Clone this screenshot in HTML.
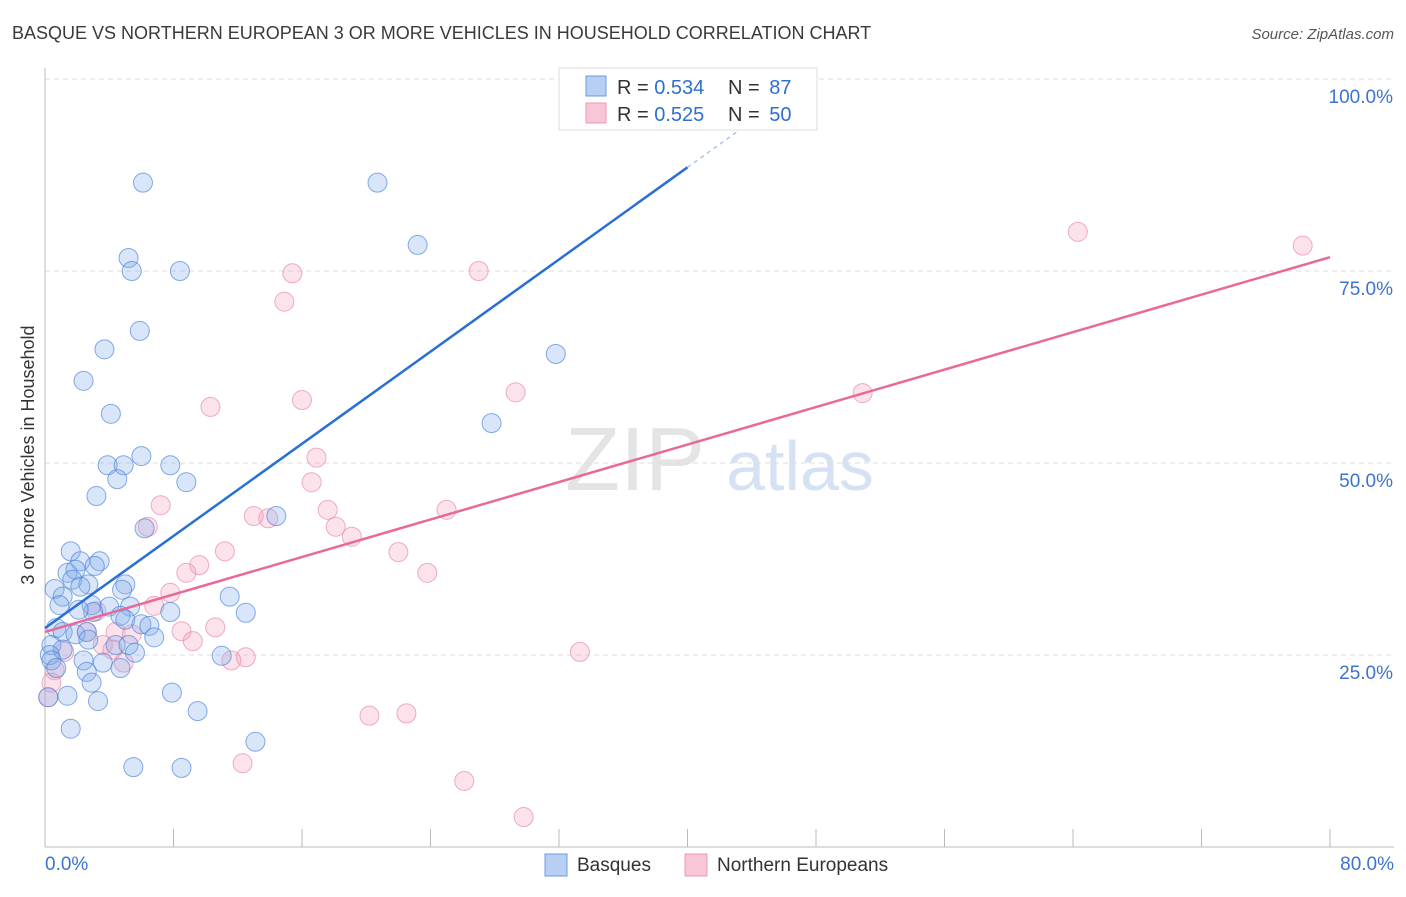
<!DOCTYPE html>
<html><head><meta charset="utf-8"><style>
body{margin:0;background:#fff;font-family:"Liberation Sans",sans-serif}
svg text{font-family:"Liberation Sans",sans-serif}
</style></head><body>
<svg id="c" width="1406" height="892" viewBox="0 0 1406 892">
<text x="12" y="39" font-size="18" fill="#3a3a3a">BASQUE VS NORTHERN EUROPEAN 3 OR MORE VEHICLES IN HOUSEHOLD CORRELATION CHART</text>
<text x="1394" y="39" font-size="15" fill="#555" font-style="italic" text-anchor="end">Source: ZipAtlas.com</text>
<text x="635" y="490" font-size="90" fill="#e4e4e4" font-family="Liberation Serif" text-anchor="middle">ZIP</text>
<text x="800" y="490" font-size="70" fill="#d6e2f3" text-anchor="middle">atlas</text>
<g id="grid"></g><g id="marks"></g>
<text transform="translate(34,455) rotate(-90)" font-size="18" fill="#333" text-anchor="middle">3 or more Vehicles in Household</text>
<g>
<rect x="559" y="68" width="258" height="62" fill="#fff" stroke="#ddd"/>
<rect x="586" y="76" width="20" height="20" fill="#b6cff3" stroke="#6b9be0"/>
<rect x="586" y="103" width="20" height="20" fill="#f8c6d6" stroke="#ec9ab6"/>
<text x="617" y="94" font-size="20" fill="#333">R = <tspan fill="#2f6fd1">0.534</tspan></text>
<text x="728" y="94" font-size="20" fill="#333">N = <tspan fill="#2f6fd1" dx="4">87</tspan></text>
<text x="617" y="121" font-size="20" fill="#333">R = <tspan fill="#2f6fd1">0.525</tspan></text>
<text x="728" y="121" font-size="20" fill="#333">N = <tspan fill="#2f6fd1" dx="4">50</tspan></text>
</g>
<g>
<rect x="545" y="854" width="22" height="22" fill="#b6cff3" stroke="#6b9be0"/>
<text x="577" y="871" font-size="19" fill="#333">Basques</text>
<rect x="685" y="854" width="22" height="22" fill="#f8c6d6" stroke="#ec9ab6"/>
<text x="717" y="871" font-size="19" fill="#333">Northern Europeans</text>
</g>
</svg>
<script>
const xTicks=[0,8,16,24,32,40,48,56,64,72,80];
const yTicks=[25,50,75,100];
const yTickLabels=["25.0%","50.0%","75.0%","100.0%"];
const blueX=[6.1,20.7,23.2,5.2,5.4,8.4,5.9,3.7,31.8,2.4,4.1,27.8,6.0,3.9,4.9,7.8,4.5,8.8,3.2,14.4,6.2,1.6,3.4,2.2,0.6,1.4,1.9,3.1,1.7,2.7,5.0,4.8,2.2,1.1,11.5,0.9,2.9,4.0,5.3,3.0,7.8,12.5,2.1,4.7,5.0,6.0,6.5,0.7,1.1,1.9,2.6,6.8,2.7,0.4,4.4,5.2,1.1,0.3,5.6,0.4,2.4,3.6,11.0,0.7,4.7,2.6,2.9,7.9,1.4,0.2,3.3,9.5,1.6,13.1,5.5,8.5,33.2];
const blueY=[86.5,86.5,78.4,76.7,75.0,75.0,67.2,64.8,64.2,60.7,56.4,55.2,50.9,49.7,49.7,49.7,47.9,47.5,45.7,43.1,41.5,38.5,37.2,37.2,33.6,35.7,36.1,36.6,34.8,34.2,34.2,33.5,33.9,32.6,32.6,31.5,31.5,31.3,31.3,30.6,30.6,30.5,30.9,30.1,29.6,29.0,28.8,28.5,28.0,27.7,28.0,27.3,27.0,26.3,26.3,26.3,25.7,25.0,25.3,24.3,24.3,24.0,24.9,23.3,23.3,22.8,21.4,20.1,19.7,19.5,19.0,17.7,15.4,13.7,10.4,10.3,100.1];
const pinkX=[64.3,78.3,15.4,27.0,14.9,50.9,29.3,16.0,10.3,16.9,16.6,7.2,17.6,25.0,13.0,13.9,18.1,6.4,19.1,11.2,22.0,9.6,8.8,23.8,7.8,6.8,3.2,10.6,8.5,4.4,2.6,5.4,9.2,3.6,4.2,1.2,12.5,11.6,4.9,33.3,0.6,0.4,0.2,20.2,22.5,12.3,26.1,29.8];
const pinkY=[80.1,78.3,74.7,75.0,71.0,59.1,59.2,58.2,57.3,50.7,47.5,44.5,43.9,43.9,43.1,42.8,41.7,41.7,40.4,38.5,38.4,36.7,35.7,35.7,33.1,31.4,30.7,28.6,28.1,28.0,28.0,27.7,26.8,26.3,25.7,25.4,24.7,24.3,24.0,25.4,23.0,21.4,19.5,17.1,17.4,10.9,8.6,3.9];
const blueTrend=[28.5,1.5];   // intercept, slope
const pinkTrend=[28.0,0.61];
const NS="http://www.w3.org/2000/svg";
const X=v=>45+v*1285/80, Y=v=>847-v*7.68;
function mk(t,a,p){const e=document.createElementNS(NS,t);for(const k in a)e.setAttribute(k,a[k]);p.appendChild(e);return e;}
const g=document.getElementById('grid'),m=document.getElementById('marks');
yTicks.forEach((t,i)=>{
 const l=mk('line',{x1:45,x2:1394,y1:Y(t),y2:Y(t),stroke:'#ddd','stroke-dasharray':'5,4'},g);
 
 
 const tx=mk('text',{x:1393,y:Y(t)+24,'font-size':19,fill:'#3b73d0','text-anchor':'end'},g);
 tx.textContent=yTickLabels[i];
 
 
});
const ax=mk('line',{x1:45,x2:45,y1:68,y2:847,stroke:'#bbb'},g);


const bx=mk('line',{x1:45,x2:1394,y1:847,y2:847,stroke:'#bbb'},g);


xTicks.forEach(t=>{
 const l=mk('line',{x1:X(t),x2:X(t),y1:829,y2:847,stroke:'#bbb'},g);
 
 
});
[[0,'0.0%','start',45],[80,'80.0%','end',1394]].forEach(d=>{
 const tx=mk('text',{x:d[3],y:870,'font-size':19,fill:'#3b73d0','text-anchor':d[2]},g);
 tx.textContent=d[1];
 
 
});
function pts(xs,ys,fill,stroke,name){xs.forEach((x,i)=>{
 const c=mk('circle',{cx:X(x),cy:Y(ys[i]),r:9.5,fill:fill,stroke:stroke,'stroke-width':1},m);
 
 
});}
pts(pinkX,pinkY,'rgba(244,165,192,0.32)','rgba(232,140,172,0.7)','northern-european-point');
pts(blueX,blueY,'rgba(130,172,236,0.3)','rgba(70,128,215,0.65)','basque-point');
const b1=mk('line',{x1:X(0),y1:Y(blueTrend[0]),x2:X(40),y2:Y(blueTrend[0]+40*blueTrend[1]),stroke:'#2a6fd6','stroke-width':2.5},m);


const b2=mk('line',{x1:X(40),y1:Y(blueTrend[0]+40*blueTrend[1]),x2:X(45),y2:Y(blueTrend[0]+45*blueTrend[1]),stroke:'#aac4ea','stroke-width':1.5,'stroke-dasharray':'4,4'},m);


const p1=mk('line',{x1:X(0),y1:Y(pinkTrend[0]),x2:X(80),y2:Y(pinkTrend[0]+80*pinkTrend[1]),stroke:'#e8689a','stroke-width':2.5},m);


</script>
</body></html>
